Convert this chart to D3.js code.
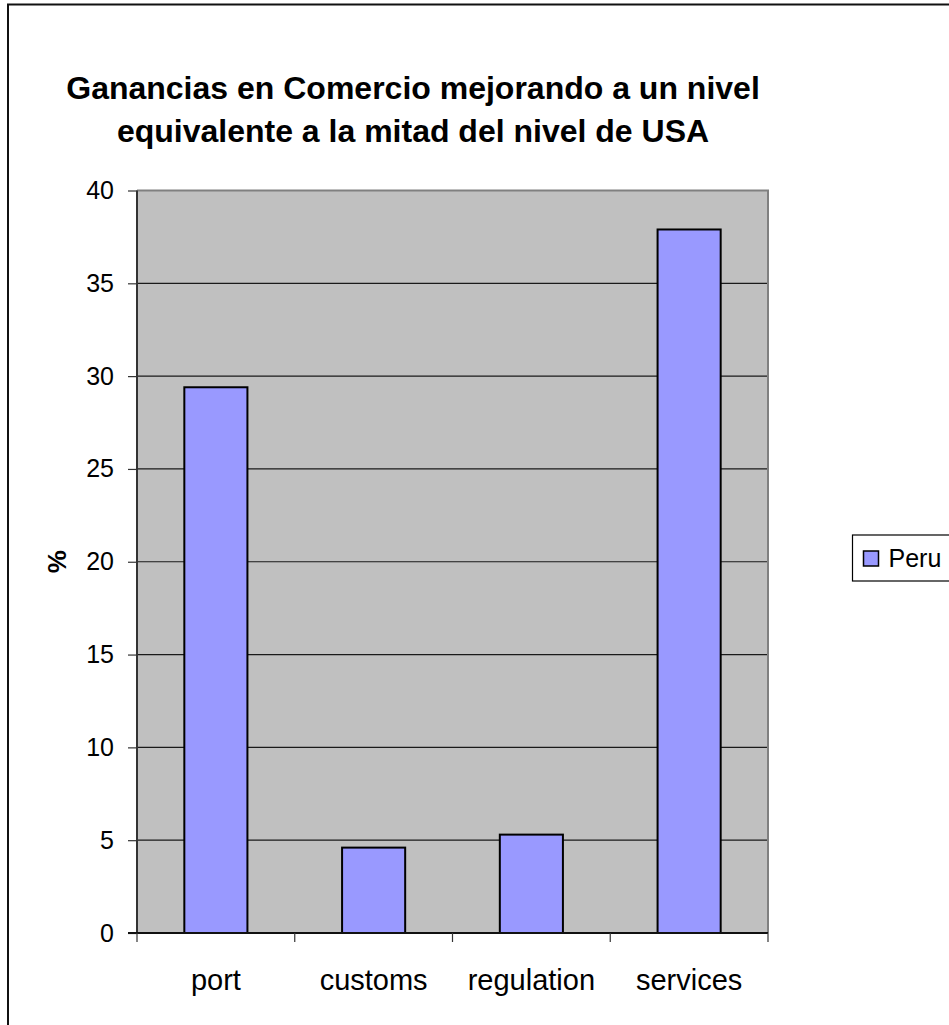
<!DOCTYPE html>
<html>
<head>
<meta charset="utf-8">
<script src="https://cdn.jsdelivr.net/npm/d3@7"></script>
<style>
  html, body { margin: 0; padding: 0; background: #fff; }
  svg { display: block; font-family: "Liberation Sans", Arial, sans-serif; }
</style>
</head>
<body>
<svg id="chart"></svg>
<script>
const titleLines = ["Ganancias en Comercio mejorando a un nivel", "equivalente a la mitad del nivel de USA"];
const categories = ["port", "customs", "regulation", "services"];
const peru = [29.4, 4.6, 5.3, 37.9];
const yTicks = [0, 5, 10, 15, 20, 25, 30, 35, 40];
const seriesName = "Peru";

const width = 949, height = 1025;
const margin = {top: 190.5, right: 181, bottom: 92, left: 137};
const barColor = "#9999ff";

const svg = d3.select("#chart")
  .attr("width", width)
  .attr("height", height);

// outer chart frame (runs off the right and bottom edges)
svg.append("rect")
  .attr("x", 8).attr("y", 4.5)
  .attr("width", width + 20).attr("height", height + 20)
  .attr("fill", "#fff")
  .attr("stroke", "#111")
  .attr("stroke-width", 2);

const x = d3.scaleBand()
  .domain(categories)
  .range([margin.left, width - margin.right])
  .paddingInner(0.6)
  .paddingOuter(0.3);

const xb = d3.scaleBand()
  .domain(categories)
  .range([margin.left, width - margin.right]);

const y = d3.scaleLinear()
  .domain([0, 40])
  .range([height - margin.bottom, margin.top]);

const plotW = width - margin.right - margin.left;

// plot background
svg.append("rect")
  .attr("x", margin.left).attr("y", y(40))
  .attr("width", plotW).attr("height", y(0) - y(40))
  .attr("fill", "#c0c0c0");

// gridlines
svg.append("g")
  .selectAll("line")
  .data(yTicks.filter(d => d > 0 && d < 40))
  .enter().append("line")
  .attr("x1", margin.left).attr("x2", width - margin.right)
  .attr("y1", d => y(d)).attr("y2", d => y(d))
  .attr("stroke", "#1a1a1a")
  .attr("stroke-width", 1.2);

// plot border top/right
svg.append("path")
  .attr("d", `M${margin.left},${y(40)}H${width - margin.right}V${y(0)}`)
  .attr("fill", "none")
  .attr("stroke", "#808080")
  .attr("stroke-width", 2);

// bars
svg.append("g")
  .selectAll("rect")
  .data(categories)
  .enter().append("rect")
  .attr("x", d => x(d))
  .attr("width", x.bandwidth())
  .attr("y", (d, i) => y(peru[i]))
  .attr("height", (d, i) => y(0) - y(peru[i]))
  .attr("fill", barColor)
  .attr("stroke", "#000")
  .attr("stroke-width", 2);

// y axis
const yAxis = g => g
  .attr("transform", `translate(${margin.left},0)`)
  .call(d3.axisLeft(y).tickValues(yTicks).tickSize(9).tickPadding(14))
  .call(g => g.select(".domain").attr("stroke", "#333").attr("stroke-width", 2).attr("d", `M0,${y(0)}V${y(40)}`))
  .call(g => g.selectAll(".tick line").attr("stroke", "#333").attr("stroke-width", 1.2))
  .call(g => g.selectAll("text").attr("font-size", 25).attr("fill", "#000")
    .attr("font-family", "Liberation Sans, Arial, sans-serif"));

svg.append("g").call(yAxis);

// x axis, ticks on category boundaries
const xEdges = categories.map(c => xb(c)).concat([width - margin.right]);
const xg = svg.append("g");
xg.append("line")
  .attr("x1", margin.left - 9).attr("x2", width - margin.right)
  .attr("y1", y(0)).attr("y2", y(0))
  .attr("stroke", "#111").attr("stroke-width", 2);
xg.selectAll(".xt")
  .data(xEdges)
  .enter().append("line")
  .attr("x1", d => d).attr("x2", d => d)
  .attr("y1", y(0)).attr("y2", y(0) + 9)
  .attr("stroke", "#333").attr("stroke-width", 1.2);
xg.selectAll("text")
  .data(categories)
  .enter().append("text")
  .attr("x", d => xb(d) + xb.bandwidth() / 2)
  .attr("y", y(0) + 57)
  .attr("text-anchor", "middle")
  .attr("font-size", 29)
  .text(d => d);

// y axis title
svg.append("text")
  .attr("transform", `translate(66,${(y(0) + y(40)) / 2}) rotate(-90)`)
  .attr("text-anchor", "middle")
  .attr("font-size", 26)
  .attr("font-weight", "bold")
  .text("%");

// chart title
svg.append("g")
  .selectAll("text")
  .data(titleLines)
  .enter().append("text")
  .attr("x", 413)
  .attr("y", (d, i) => 99 + i * 43)
  .attr("text-anchor", "middle")
  .attr("font-size", 32)
  .attr("font-weight", "bold")
  .text(d => d);

// legend
const lg = svg.append("g").attr("transform", "translate(852.5,535)");
lg.append("rect")
  .attr("width", 120).attr("height", 46)
  .attr("fill", "#fff")
  .attr("stroke", "#000").attr("stroke-width", 1.2);
lg.append("rect")
  .attr("x", 11).attr("y", 16)
  .attr("width", 15).attr("height", 15)
  .attr("fill", barColor)
  .attr("stroke", "#000").attr("stroke-width", 1.5);
lg.append("text")
  .attr("x", 36).attr("y", 32)
  .attr("font-size", 25)
  .text(seriesName);
</script>
</body>
</html>
